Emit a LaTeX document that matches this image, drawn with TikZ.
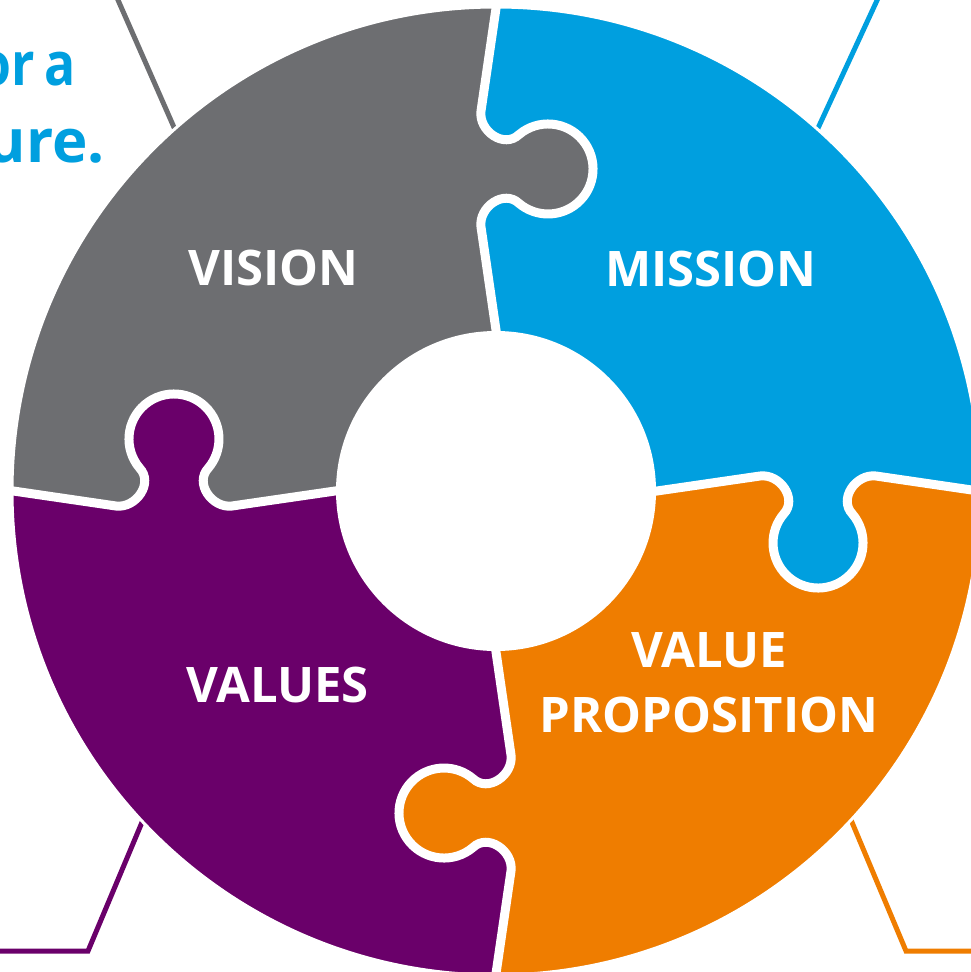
\documentclass[tikz,border=0pt]{standalone}
\usepackage{fontspec}
\setmainfont{Open Sans}
\definecolor{pgray}{HTML}{6D6E71}
\definecolor{pblue}{HTML}{009FDF}
\definecolor{porange}{HTML}{EF7D00}
\definecolor{ppurple}{HTML}{6A006A}
\tikzset{
  leader/.style={line width=5, line join=miter},
  seam/.style={draw=white, line width=9},
  lab/.style={text=white, font=\fontsize{49}{65}\selectfont\bfseries, inner sep=0, align=center},
  tagline/.style={text=pblue, font=\fontsize{60}{77}\selectfont\bfseries, inner sep=0, anchor=base east},
}
\def\tabpath{(-15,-380) .. controls (-17.5,-360) and (8,-342) .. (23.1,-356.5) arc[start angle=230, end angle=490, radius=45] .. controls (8,-302) and (-17.5,-284) .. (-15,-264)}
\begin{document}
\begin{tikzpicture}[x=1pt,y=-1pt]
\useasboundingbox (0,0) rectangle (971,972);
\clip (0,0) rectangle (971,972);
\fill[white] (0,0) rectangle (971,972);
% leader lines
\coordinate (g1) at (180,141); \coordinate (g2) at (115.8,-5);
\coordinate (b1) at (813,139); \coordinate (b2) at (879.5,-5);
\coordinate (p1) at (148,808); \coordinate (p2) at (88,951); \coordinate (p3) at (-5,951);
\coordinate (o1) at (846,808); \coordinate (o2) at (906,951); \coordinate (o3) at (976,951);
\draw[leader,pgray] (g1) -- (g2);
\draw[leader,pblue] (b1) -- (b2);
\draw[leader,ppurple] (p1) -- (p2) -- (p3);
\draw[leader,porange] (o1) -- (o2) -- (o3);
% puzzle ring
\begin{scope}[shift={(496,491)}]
  \begin{scope}
    \clip (0,0) circle[radius=484];
    \fill[pblue] (0,0) -- (4.5,-130) -- (-15,-264) -- (-15,-380) -- (4,-510) -- (600,-600) -- (510,4) -- (380,-15) -- (264,-15) -- (130,4.5) -- cycle;
    \fill[porange] (0,0) -- (130,4.5) -- (264,-15) -- (380,-15) -- (510,4) -- (600,600) -- (-4,510) -- (15,380) -- (15,264) -- (-4.5,130) -- cycle;
    \fill[ppurple] (0,0) -- (-4.5,130) -- (15,264) -- (15,380) -- (-4,510) -- (-600,600) -- (-510,-4) -- (-380,15) -- (-264,15) -- (-130,-4.5) -- cycle;
    \fill[pgray] (0,0) -- (-130,-4.5) -- (-264,15) -- (-380,15) -- (-510,-4) -- (-600,-600) -- (4,-510) -- (-15,-380) -- (-15,-264) -- (4.5,-130) -- cycle;
    \foreach \r/\c in {0/pgray,-90/pblue,180/porange,90/ppurple}{
      \begin{scope}[rotate=\r]
        \filldraw[fill=\c, draw=\c, line width=2] \tabpath -- cycle;
      \end{scope}
    }
    \foreach \r in {0,-90,180,90}{
      \begin{scope}[rotate=\r]
        \draw[seam] (4,-510) -- \tabpath -- (4.5,-130);
      \end{scope}
    }
  \end{scope}
  \draw[white, line width=3] (0,0) circle[radius=484];
  \fill[white] (0,0) circle[radius=160];
\end{scope}
% labels
\node[lab] (vision) at (273.5,268) {VISION};
\node[lab] (mission) at (711,268.5) {MISSION};
\node[lab] (values) at (277.5,685) {VALUES};
\node[lab] (valprop) at (709,683) {VALUE\\PROPOSITION};
\node[tagline] (tag1) at (76,85) {\scalebox{0.86}[1]{or\hspace{11pt}a}};
\node[tagline] (tag2) at (105,162) {ure.};
\end{tikzpicture}
\end{document}
